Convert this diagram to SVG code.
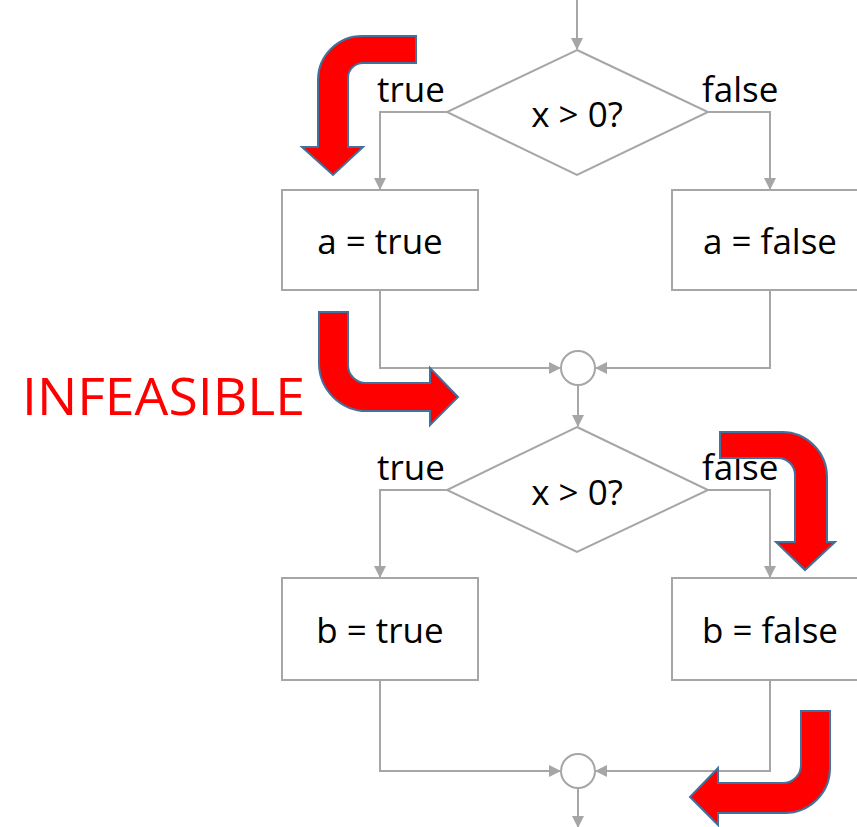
<svg xmlns="http://www.w3.org/2000/svg" width="857" height="827" viewBox="0 0 857 827">
<defs>
<marker id="ah" markerWidth="12" markerHeight="12" refX="11" refY="6" orient="auto" markerUnits="userSpaceOnUse">
<path d="M0,0 L12,6 L0,12 Z" fill="#A6A6A6"/>
</marker>
<style>
.shape{fill:#FFFFFF;stroke:#A6A6A6;stroke-width:2}
.conn{fill:none;stroke:#A6A6A6;stroke-width:2;marker-end:url(#ah)}
.t{font-family:"Open Sans","Liberation Sans",sans-serif;font-size:35px;fill:#000000}
.c{text-anchor:middle}
.big{fill:#FF0000;stroke:#41719C;stroke-width:2;stroke-linejoin:miter}
</style>
</defs>
<rect width="857" height="827" fill="#FFFFFF"/>
<g id="connectors">
<path class="conn" d="M577,0 L577,49"/>
<path class="conn" d="M447,112 L380,112 L380,189"/>
<path class="conn" d="M708,112 L770,112 L770,189"/>
<path class="conn" d="M380,290 L380,368 L560,368"/>
<path class="conn" d="M770,290 L770,368 L596,368"/>
<path class="conn" d="M578,386 L578,426"/>
<path class="conn" d="M447,490 L380,490 L380,577"/>
<path class="conn" d="M708,490 L770,490 L770,577"/>
<path class="conn" d="M380,680 L380,771 L560,771"/>
<path class="conn" d="M770,680 L770,771 L596,771"/>
<path class="conn" d="M578,789 L578,827"/>
</g>
<g id="d1">
<polygon class="shape" points="577,50 708,112 577,175 447,112"/>
<text class="t c" x="577" y="127">x &gt; 0?</text>
</g>
<g id="d1-true"><text class="t" x="377" y="102">true</text></g>
<g id="d1-false"><text class="t" x="702" y="102">false</text></g>
<g id="a-true">
<rect class="shape" x="282" y="190" width="196" height="100"/>
<text class="t c" x="380" y="254">a = true</text>
</g>
<g id="a-false">
<rect class="shape" x="672" y="190" width="196" height="100"/>
<text class="t c" x="770" y="254">a = false</text>
</g>
<g id="m1"><circle class="shape" cx="578" cy="368" r="17"/></g>
<g id="d2">
<polygon class="shape" points="577,427 708,490 577,552 447,490"/>
<text class="t c" x="577" y="505">x &gt; 0?</text>
</g>
<g id="d2-true"><text class="t" x="377" y="480">true</text></g>
<g id="d2-false"><text class="t" x="702" y="480">false</text></g>
<g id="b-true">
<rect class="shape" x="282" y="578" width="196" height="102"/>
<text class="t c" x="380" y="643">b = true</text>
</g>
<g id="b-false">
<rect class="shape" x="672" y="578" width="196" height="102"/>
<text class="t c" x="770" y="643">b = false</text>
</g>
<g id="m2"><circle class="shape" cx="578" cy="771" r="17"/></g>
<g id="red-arrows">
<path class="big" d="M416,36 L362,36 A44,44 0 0 0 318,80 L318,147 L302,147 L333,175 L363,147 L348,147 L348,78 A15,15 0 0 1 363,63 L416,63 Z"/>
<path class="big" d="M319,312 L348,312 L348,365 A18,18 0 0 0 366,383 L430,383 L430,368 L458,397 L430,425 L430,411 L367,411 A48,48 0 0 1 319,363 Z"/>
<path class="big" d="M720,432 L782,432 A45,45 0 0 1 827,477 L827,542 L835,542 L805,570 L776,542 L795,542 L795,475 A17,17 0 0 0 778,458 L720,458 Z"/>
<path class="big" d="M801,711 L830,711 L830,768 A45,45 0 0 1 785,813 L718,813 L718,825 L690,797 L718,768 L718,783 L783,783 A18,18 0 0 0 801,765 Z"/>
</g>
<g id="infeasible">
<text x="22" y="415" font-family="'Open Sans','Liberation Sans',sans-serif" font-size="52" fill="#FF0000" textLength="283" lengthAdjust="spacingAndGlyphs">INFEASIBLE</text>
</g>
</svg>
